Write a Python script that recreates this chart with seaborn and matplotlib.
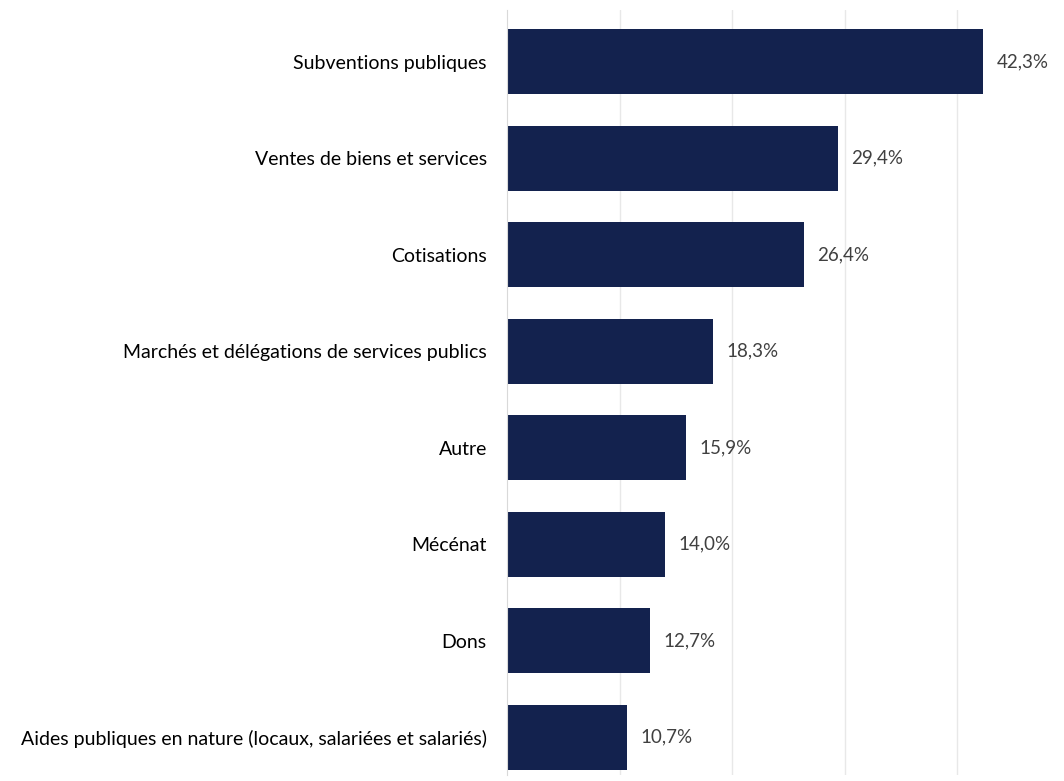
import pandas as pd
import matplotlib.pyplot as plt
import seaborn as sns

categories = [
    "Subventions publiques",
    "Ventes de biens et services",
    "Cotisations",
    "Marchés et délégations de services publics",
    "Autre",
    "Mécénat",
    "Dons",
    "Aides publiques en nature (locaux, salariées et salariés)",
]
values = [42.3, 29.4, 26.4, 18.3, 15.9, 14.0, 12.7, 10.7]

sns.set_style("white")
plt.rcParams['font.family'] = ['Lato', 'DejaVu Sans']

df = pd.DataFrame({"cat": categories, "val": values})

fig = plt.figure(figsize=(10.64, 7.81), dpi=100)
ax = fig.add_axes([0.4765, 0.0077, 0.5235, 0.98])

sns.barplot(data=df, x="val", y="cat", color="#13224E", width=0.67,
            saturation=1, linewidth=0, ax=ax)

ax.set_xlim(0, 49.5)
ax.set_ylim(7.39, -0.54)
ax.set_xticks([10, 20, 30, 40])
ax.xaxis.grid(True, color="#e8e8e8", linewidth=1)
ax.set_axisbelow(True)
ax.tick_params(axis="x", bottom=False, labelbottom=False)
ax.tick_params(axis="y", left=False, labelsize=14, labelcolor="#000000", pad=11)
ax.set_xlabel("")
ax.set_ylabel("")
for s in ["top", "right", "bottom"]:
    ax.spines[s].set_visible(False)
ax.spines["left"].set_color("#d9d9d9")

for i, v in enumerate(values):
    ax.text(v + 1.2, i, f"{v:.1f}%".replace(".", ","), va="center",
            ha="left", fontsize=13.5, color="#404040")

fig.savefig("out.png", dpi=100)
